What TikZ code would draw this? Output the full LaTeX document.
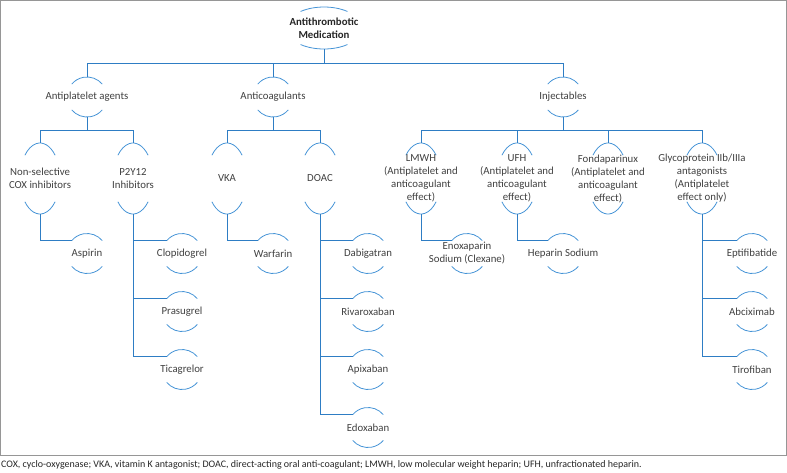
\documentclass[tikz,border=0pt]{standalone}
\usepackage{fontspec}
\setmainfont{Carlito}
\usepackage{tikz}
\usetikzlibrary{positioning, calc}
\definecolor{linkblue}{RGB}{46,125,196}
\definecolor{arcblue}{RGB}{70,148,214}
\definecolor{txtgray}{RGB}{64,64,64}
\definecolor{rootgray}{RGB}{38,38,38}
\definecolor{framegray}{RGB}{150,150,150}
\tikzset{
  linkline/.style={draw=linkblue, line width=0.9pt},
  arcline/.style={draw=arcblue, line width=0.8pt},
  ovalcaps/.style n args={3}{path picture={
    \draw[arcline] ($(path picture bounding box.center)+(#3:#1 and #2)$)
      arc[start angle=#3, end angle={180-#3}, x radius=#1, y radius=#2];
    \draw[arcline] ($(path picture bounding box.center)+({180+#3}:#1 and #2)$)
      arc[start angle={180+#3}, end angle={360-#3}, x radius=#1, y radius=#2];
  }},
  rootnode/.style={font=\fontsize{10.8}{13}\selectfont\bfseries, text=rootgray,
    align=center, inner sep=0pt, outer sep=-0.5pt,
    minimum width=80pt, minimum height=43pt, ovalcaps={38pt}{21pt}{52}},
  groupnode/.style={font=\fontsize{10.8}{13}\selectfont, text=txtgray,
    align=center, inner sep=0pt, outer sep=-0.5pt,
    minimum width=44pt, minimum height=41pt, ovalcaps={20pt}{20pt}{40}},
  classnode/.style={font=\fontsize{10.8}{13}\selectfont, text=txtgray,
    align=center, inner sep=0pt, outer sep=-0.5pt,
    minimum width=44pt, minimum height=72pt, ovalcaps={20pt}{35.5pt}{41}},
  drugnode/.style={font=\fontsize{10.8}{13}\selectfont, text=txtgray,
    align=center, inner sep=0pt, outer sep=-0.5pt,
    minimum width=44pt, minimum height=41pt, ovalcaps={20pt}{20pt}{40}}
}

\begin{document}
\begin{tikzpicture}[x=1pt, y=1pt]
  \useasboundingbox (0,0) rectangle (787,-472);
  \draw[framegray, line width=0.9pt] (0.5,-0.5) rectangle (786,-455);

  % top and groups
  \node[rootnode] (root) at (324,-28) {Antithrombotic\\Medication};
  \node[groupnode] (apa) at (87,-97) {Antiplatelet agents};
  \node[groupnode] (acg) at (273,-97) {Anticoagulants};
  \node[groupnode] (inj) at (563,-97) {Injectables};

  % drug classes
  \node[classnode] (nsc) at (40,-178.5) {Non-selective\\COX inhibitors};
  \node[classnode] (p2y) at (133,-178.5) {P2Y12\\Inhibitors};
  \node[classnode] (vka) at (227,-178.5) {VKA};
  \node[classnode] (doac) at (320,-178.5) {DOAC};
  \node[classnode] (lmwh) at (421,-178.5) {LMWH\\(Antiplatelet and\\anticoagulant\\effect)};
  \node[classnode] (ufh) at (517,-178.5) {UFH\\(Antiplatelet and\\anticoagulant\\effect)};
  \node[classnode] (fond) at (608,-178.5) {Fondaparinux\\(Antiplatelet and\\anticoagulant\\effect)};
  \node[classnode] (gpi) at (702,-178.5) {Glycoprotein IIb/IIIa\\antagonists\\(Antiplatelet\\effect only)};

  % drugs
  \node[drugnode] (asp) at (87,-253.5) {Aspirin};
  \node[drugnode] (clo) at (182,-253.5) {Clopidogrel};
  \node[drugnode, below=18pt of clo] (pra) {Prasugrel};
  \node[drugnode, below=18pt of pra] (tic) {Ticagrelor};
  \node[drugnode] (war) at (273,-253.5) {Warfarin};
  \node[drugnode] (dab) at (368,-253.5) {Dabigatran};
  \node[drugnode, below=18pt of dab] (riv) {Rivaroxaban};
  \node[drugnode, below=18pt of riv] (api) {Apixaban};
  \node[drugnode, below=18pt of api] (edo) {Edoxaban};
  \node[drugnode] (eno) at (467,-253.5) {Enoxaparin\\Sodium (Clexane)};
  \node[drugnode] (hep) at (563,-253.5) {Heparin Sodium};
  \node[drugnode] (ept) at (752,-253.5) {Eptifibatide};
  \node[drugnode, below=18pt of ept] (abc) {Abciximab};
  \node[drugnode, below=18pt of abc] (tir) {Tirofiban};

  \draw[linkline] (root.south) -- ++(0,-14) -| (apa.north);
  \draw[linkline] (root.south) -- ++(0,-14) -| (acg.north);
  \draw[linkline] (root.south) -- ++(0,-14) -| (inj.north);

  \draw[linkline] (apa.south) -- ++(0,-13) -| (nsc.north);
  \draw[linkline] (apa.south) -- ++(0,-13) -| (p2y.north);
  \draw[linkline] (acg.south) -- ++(0,-13) -| (vka.north);
  \draw[linkline] (acg.south) -- ++(0,-13) -| (doac.north);
  \draw[linkline] (inj.south) -- ++(0,-13) -| (lmwh.north);
  \draw[linkline] (inj.south) -- ++(0,-13) -| (ufh.north);
  \draw[linkline] (inj.south) -- ++(0,-13) -| (fond.north);
  \draw[linkline] (inj.south) -- ++(0,-13) -| (gpi.north);

  \draw[linkline] (nsc.south) |- ($(asp)+(140:20pt and 20pt)$);
  \draw[linkline] (p2y.south) |- ($(clo)+(140:20pt and 20pt)$);
  \draw[linkline] (p2y.south) |- ($(pra)+(140:20pt and 20pt)$);
  \draw[linkline] (p2y.south) |- ($(tic)+(140:20pt and 20pt)$);
  \draw[linkline] (vka.south) |- ($(war)+(140:20pt and 20pt)$);
  \draw[linkline] (doac.south) |- ($(dab)+(140:20pt and 20pt)$);
  \draw[linkline] (doac.south) |- ($(riv)+(140:20pt and 20pt)$);
  \draw[linkline] (doac.south) |- ($(api)+(140:20pt and 20pt)$);
  \draw[linkline] (doac.south) |- ($(edo)+(140:20pt and 20pt)$);
  \draw[linkline] (lmwh.south) |- ($(eno)+(140:20pt and 20pt)$);
  \draw[linkline] (ufh.south) |- ($(hep)+(140:20pt and 20pt)$);
  \draw[linkline] (gpi.south) |- ($(ept)+(140:20pt and 20pt)$);
  \draw[linkline] (gpi.south) |- ($(abc)+(140:20pt and 20pt)$);
  \draw[linkline] (gpi.south) |- ($(tir)+(140:20pt and 20pt)$);

  \node[anchor=base west, inner sep=0pt, font=\fontsize{10}{12}\selectfont, text=rootgray] (note) at (1,-467)
    {COX, cyclo-oxygenase; VKA, vitamin K antagonist; DOAC, direct-acting oral anti-coagulant; LMWH, low molecular weight heparin; UFH, unfractionated heparin.};
\end{tikzpicture}
\end{document}
